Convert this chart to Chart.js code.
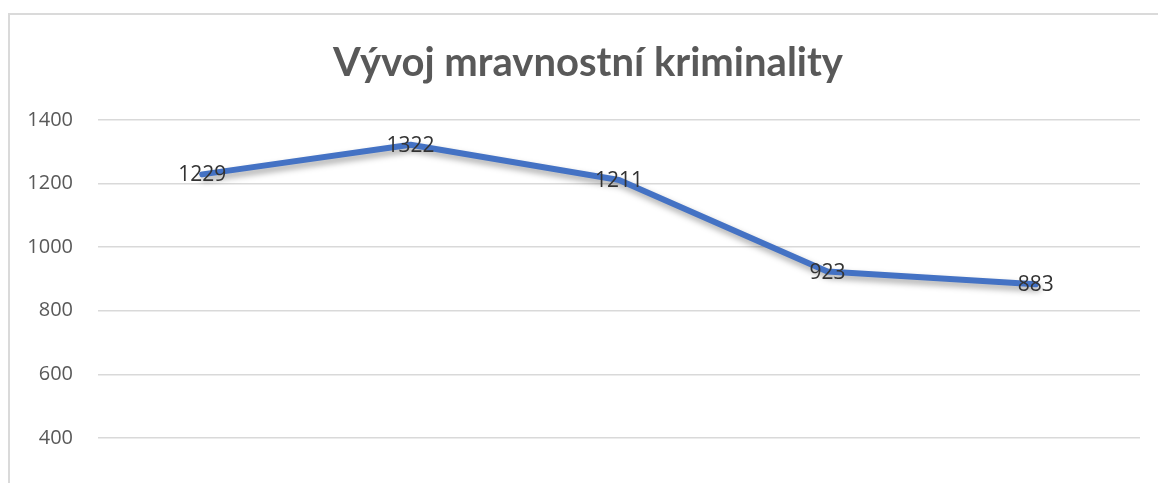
<!DOCTYPE html>
<html>
<head>
<meta charset="utf-8">
<script src="https://cdn.jsdelivr.net/npm/chart.js@4/dist/chart.umd.min.js"></script>
<style>
  html, body { margin: 0; padding: 0; background: #ffffff; overflow: hidden; width: 1158px; height: 483px; }
  #frame { position: absolute; left: 8px; top: 13px; width: 1200px; height: 700px;
           border-left: 2px solid #dadada; border-top: 2px solid #dadada; }
  #c { position: absolute; left: 0; top: 0; }
</style>
</head>
<body>
<div id="frame"></div>
<canvas id="c" width="1176" height="602"></canvas>
<script>
// Data
const titleText = 'Vývoj mravnostní kriminality';
const categories = ['1', '2', '3', '4', '5'];   // category labels are not visible in the reference
const values = [1229, 1322, 1211, 923, 883];
const yMin = 0, yMax = 1400, yStep = 200;

const shadowPlugin = {
  id: 'lineShadow',
  beforeDatasetDraw(chart) {
    const ctx = chart.ctx;
    ctx.save();
    ctx.shadowColor = 'rgba(0,0,0,0.35)';
    ctx.shadowBlur = 6;
    ctx.shadowOffsetX = 2;
    ctx.shadowOffsetY = 4;
  },
  afterDatasetDraw(chart) { chart.ctx.restore(); }
};

const labelPlugin = {
  id: 'valueLabels',
  afterDatasetsDraw(chart) {
    const ctx = chart.ctx;
    const meta = chart.getDatasetMeta(0);
    ctx.save();
    ctx.font = '21px "Open Sans", sans-serif';
    ctx.fillStyle = '#333333';
    ctx.textAlign = 'center';
    ctx.textBaseline = 'middle';
    meta.data.forEach((pt, i) => {
      ctx.fillText(String(chart.data.datasets[0].data[i]), pt.x, pt.y + 1);
    });
    ctx.restore();
  }
};

new Chart(document.getElementById('c'), {
  type: 'line',
  data: {
    labels: categories,
    datasets: [{
      data: values,
      borderColor: '#4472C4',
      borderWidth: 6,
      pointRadius: 0,
      tension: 0,
      borderCapStyle: 'round',
      borderJoinStyle: 'round',
      fill: false
    }]
  },
  options: {
    responsive: false,
    animation: false,
    layout: { padding: 0 },
    plugins: {
      legend: { display: false },
      tooltip: { enabled: false },
      title: {
        display: true,
        text: titleText,
        color: '#595959',
        font: { family: 'Lato, sans-serif', size: 40, weight: 'bold' },
        padding: { top: 39, bottom: 33 }
      }
    },
    scales: {
      x: { display: false, offset: true },
      y: {
        min: yMin, max: yMax,
        afterFit(scale) { scale.width = 98; },
        border: { display: false },
        grid: { color: '#d9d9d9', lineWidth: 1.5, drawTicks: false },
        ticks: {
          stepSize: yStep,
          padding: 25,
          color: '#595959',
          font: { family: '"Open Sans", sans-serif', size: 20 },
          callback: (v) => String(v)
        }
      },
      y2: {
        position: 'right',
        min: yMin, max: yMax,
        afterFit(scale) { scale.width = 36; },
        border: { display: false },
        grid: { display: false },
        ticks: { display: false }
      }
    }
  },
  plugins: [shadowPlugin, labelPlugin]
});
</script>
</body>
</html>
